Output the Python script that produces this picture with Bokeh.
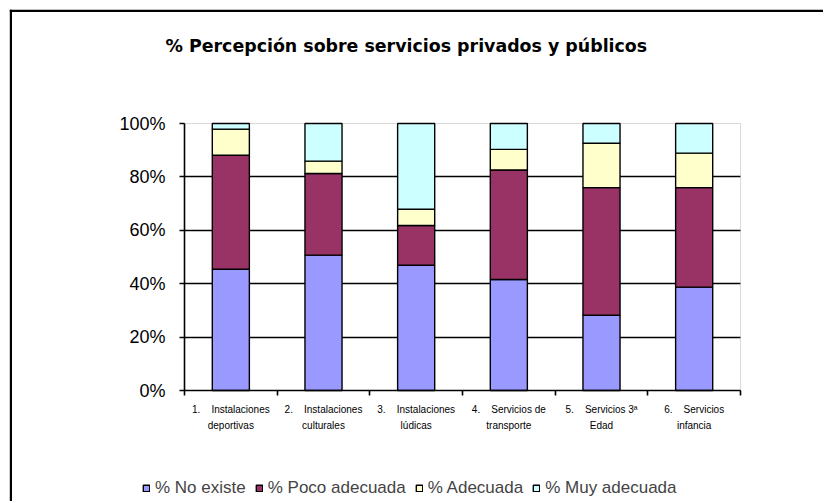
from bokeh.plotting import figure
from bokeh.models import (FixedTicker, Legend, LegendItem, Label, BoxAnnotation,
                          ColumnDataSource, Range1d)
from bokeh.embed import file_html
from bokeh.resources import INLINE

title_text = "% Percepción sobre servicios privados y públicos"
NB = "\u00a0"
categories = [f"1.{NB*4}Instalaciones\ndeportivas", f"2.{NB*4}Instalaciones\nculturales",
              f"3.{NB*4}Instalaciones\nlúdicas", f"4.{NB*4}Servicios de\ntransporte",
              f"5.{NB*4}Servicios 3ª\nEdad", f"6.{NB*4}Servicios\ninfancia"]
no_existe = [45.4, 50.7, 46.9, 41.6, 28.2, 38.7]
poco_adecuada = [42.7, 30.6, 14.9, 41.0, 47.8, 37.3]
adecuada = [9.8, 4.6, 6.1, 7.7, 16.6, 12.9]
muy_adecuada = [2.1, 14.1, 32.1, 9.7, 7.4, 11.1]
series_names = ["% No existe", "% Poco adecuada", "% Adecuada", "% Muy adecuada"]
colors = ["#9999FF", "#993366", "#FFFFCC", "#CCFFFF"]
y_ticks = [0, 20, 40, 60, 80, 100]

n = len(categories)
x_pos = [i + 0.5 for i in range(n)]
keys = ["no_existe", "poco_adecuada", "adecuada", "muy_adecuada"]
source = ColumnDataSource(dict(x=x_pos, no_existe=no_existe, poco_adecuada=poco_adecuada,
                               adecuada=adecuada, muy_adecuada=muy_adecuada))

# Layout: canvas pixels; plot area spans px 184..740 horizontally, 123..390 vertically
W, H = 823, 501
PL, PR, PT, PB = 184, 740, 123, 390
sx = (PR - PL) / n
sy = (PB - PT) / 100.0
def px2x(px):
    return (px - PL) / sx
def py2y(py):
    return (PB - py) / sy

p = figure(width=W, height=H, output_backend="svg", toolbar_location=None,
           x_range=Range1d(px2x(0), px2x(W)), y_range=Range1d(py2y(H), py2y(0)),
           min_border=0, min_border_left=0, min_border_right=0,
           min_border_top=0, min_border_bottom=0)
p.background_fill_color = "white"
p.border_fill_color = "white"
p.outline_line_color = None

# plot-area border (grey)
p.add_layout(BoxAnnotation(left=0, right=n, bottom=0, top=100, fill_alpha=0,
                           line_color="#808080", line_width=1, level="underlay"))

renderers = p.vbar_stack(keys, x="x", width=0.4, source=source,
                         fill_color=colors, line_color="black", line_width=1.4)

# grid
p.xgrid.visible = False
p.ygrid.ticker = FixedTicker(ticks=y_ticks[1:-1])
p.ygrid.cross_bounds = (0, n)
p.ygrid.grid_line_color = "black"
p.ygrid.grid_line_width = 1.5

# y axis
yax = p.yaxis[0]
yax.fixed_location = 0
yax.bounds = (0, 100)
yax.ticker = FixedTicker(ticks=y_ticks)
yax.major_label_overrides = {t: f"{t}%" for t in y_ticks}
yax.axis_line_color = "black"
yax.axis_line_width = 1.6
yax.major_tick_in = 0
yax.major_tick_out = 5
yax.major_tick_line_width = 1.6
yax.minor_tick_line_color = None
yax.major_label_text_font = "Liberation Sans"
yax.major_label_text_font_size = "18px"
yax.major_label_text_color = "black"
yax.major_label_standoff = 14

# x axis
xax = p.xaxis[0]
xax.fixed_location = 0
xax.bounds = (0, n)
xax.ticker = FixedTicker(ticks=x_pos, minor_ticks=list(range(n + 1)))
xax.major_label_overrides = {x: c for x, c in zip(x_pos, categories)}
xax.axis_line_color = "black"
xax.axis_line_width = 1.6
xax.major_tick_line_color = None
xax.major_tick_in = 0
xax.major_tick_out = 0
xax.minor_tick_in = 0
xax.minor_tick_out = 5
xax.minor_tick_line_color = "black"
xax.minor_tick_line_width = 1.6
xax.major_label_text_font = "Liberation Sans"
xax.major_label_text_font_size = "10px"
xax.major_label_text_line_height = 1.5
xax.major_label_text_color = "black"
xax.major_label_standoff = 8

# title
p.add_layout(Label(x=px2x(165), y=py2y(45), text=title_text,
                   text_align="left", text_baseline="middle", text_font="DejaVu Sans",
                   text_font_style="bold", text_font_size="17.4px", text_color="black"))

# outer chart border (top and left edges visible)
p.add_layout(BoxAnnotation(left=px2x(9.3), right=px2x(W + 50), top=py2y(9.3),
                           bottom=py2y(11.5), fill_color="black", fill_alpha=1,
                           line_color=None))
p.add_layout(BoxAnnotation(left=px2x(9.3), right=px2x(11.5), top=py2y(9.3),
                           bottom=py2y(H + 50), fill_color="black", fill_alpha=1,
                           line_color=None))

legend = Legend(items=[LegendItem(label=nm, renderers=[r]) for nm, r in zip(series_names, renderers)],
                orientation="horizontal", location=(142, H - 498), padding=0, margin=0,
                spacing=9, label_standoff=5, glyph_width=8, glyph_height=8,
                label_text_font="Liberation Sans", label_text_font_size="17px",
                label_height=17, border_line_color=None, background_fill_alpha=0)
p.add_layout(legend, "center")

open("out.html", "w").write(file_html(p, INLINE))
